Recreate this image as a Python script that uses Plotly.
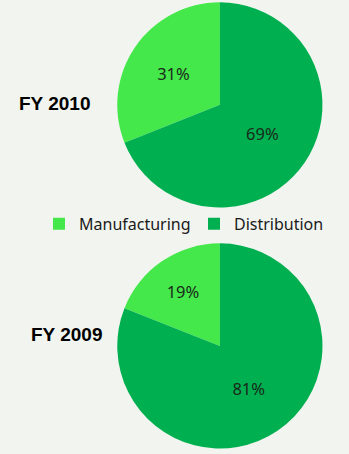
import plotly.graph_objects as go

categories = ["Manufacturing", "Distribution"]
fy2010 = [31, 69]
fy2009 = [19, 81]
titles = ["FY 2010", "FY 2009"]
colors = ["#44e84a", "#00b050"]
bg = "#f2f4ef"

fig = go.Figure()
common = dict(
    labels=categories, sort=False, direction="clockwise",
    marker=dict(colors=colors, line=dict(width=0)),
    textinfo="percent", texttemplate="%{percent:.0%}", textposition="inside",
    insidetextfont=dict(family="Noto Sans", size=16.5, color="#1a2a1a"),
    insidetextorientation="horizontal", hoverinfo="label+percent",
)
for vals, dom, show in [(fy2010, [0.542, 0.996], True), (fy2009, [0.011, 0.465], False)]:
    # Manufacturing slice ends at 12 o'clock (counterclockwise from top in the original)
    rot = -360.0 * vals[0] / sum(vals)
    fig.add_trace(go.Pie(values=vals, rotation=rot,
                         domain=dict(x=[0.336, 0.924], y=dom),
                         showlegend=show, **common))

for t, x, y in zip(titles, [0.155, 0.19], [0.773, 0.264]):
    fig.add_annotation(text="<b>" + t + "</b>", x=x, y=y,
                       xref="paper", yref="paper", showarrow=False,
                       font=dict(family="Liberation Sans", size=19, color="#000000"),
                       xanchor="center", yanchor="middle")

fig.update_layout(
    width=349, height=454, margin=dict(l=0, r=0, t=0, b=0),
    paper_bgcolor=bg, plot_bgcolor=bg,
    legend=dict(orientation="h", x=0.135, y=0.507, xanchor="left", yanchor="middle",
                font=dict(family="Noto Sans", size=16, color="#1a1a1a"),
                bgcolor="rgba(0,0,0,0)", itemwidth=30, tracegroupgap=0,
                entrywidth=110, entrywidthmode="pixels"),
)
fig.write_html("out.html")
